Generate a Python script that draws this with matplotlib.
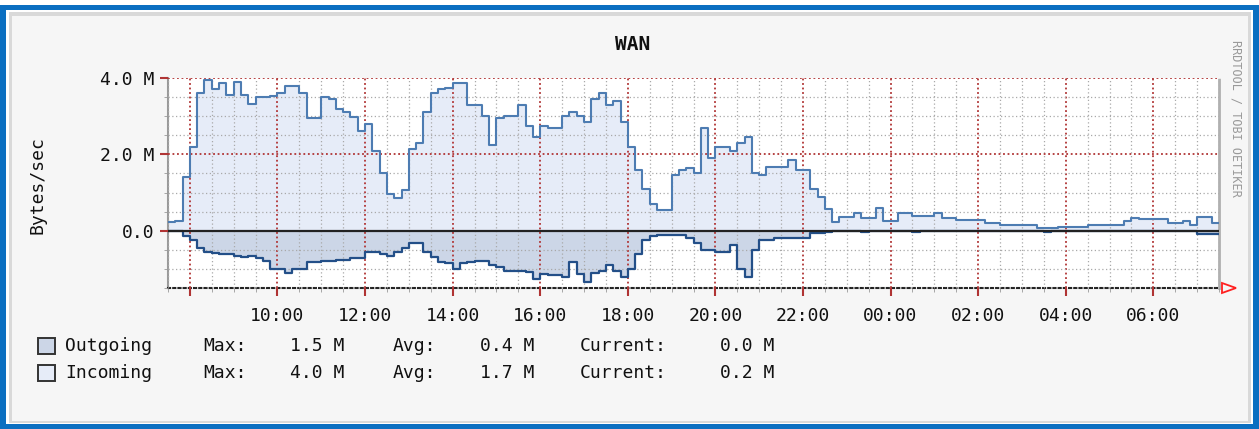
import numpy as np
import matplotlib
matplotlib.use("Agg")
import matplotlib.pyplot as plt
from matplotlib.patches import Rectangle, Polygon
from matplotlib.ticker import MultipleLocator, FixedLocator, FixedFormatter

# ---------------- data (Bytes/sec, in M), 10-minute steps from 07:30 ----------------
start_hour = 7.5
step_hours = 1 / 6

incoming = [
    0.24, 0.26, 1.4, 2.2, 3.6, 3.95, 3.7, 3.86, 3.55, 3.9,
    3.55, 3.33, 3.5, 3.5, 3.52, 3.6, 3.8, 3.8, 3.6, 2.95,
    2.95, 3.5, 3.45, 3.2, 3.1, 2.97, 2.6, 2.8, 2.1, 1.5,
    0.95, 0.86, 1.07, 2.15, 2.3, 3.1, 3.6, 3.72, 3.75, 3.86,
    3.86, 3.3, 3.3, 3.0, 2.24, 2.95, 3.0, 3.0, 3.28, 2.75,
    2.45, 2.75, 2.7, 2.7, 3.0, 3.1, 3.0, 2.85, 3.45, 3.6,
    3.3, 3.4, 2.84, 2.2, 1.6, 1.1, 0.7, 0.55, 0.55, 1.45,
    1.6, 1.64, 1.5, 2.68, 1.9, 2.18, 2.18, 2.1, 2.3, 2.45,
    1.5, 1.45, 1.67, 1.67, 1.67, 1.85, 1.6, 1.6, 1.1, 0.89,
    0.56, 0.23, 0.36, 0.36, 0.46, 0.33, 0.33, 0.6, 0.26, 0.26,
    0.46, 0.46, 0.38, 0.38, 0.38, 0.46, 0.33, 0.33, 0.28, 0.28,
    0.28, 0.28, 0.2, 0.2, 0.15, 0.16, 0.16, 0.16, 0.16, 0.08,
    0.08, 0.08, 0.1, 0.1, 0.1, 0.1, 0.15, 0.15, 0.15, 0.15,
    0.15, 0.25, 0.34, 0.3, 0.3, 0.3, 0.3, 0.2, 0.2, 0.25,
    0.15, 0.35, 0.35, 0.2,
]

outgoing = [
    0.02, 0.02, 0.15, 0.25, 0.45, 0.55, 0.58, 0.6, 0.62, 0.65,
    0.7, 0.65, 0.72, 0.8, 1.0, 1.0, 1.12, 1.0, 1.0, 0.83,
    0.83, 0.8, 0.8, 0.77, 0.77, 0.72, 0.72, 0.55, 0.55, 0.6,
    0.65, 0.55, 0.45, 0.33, 0.33, 0.55, 0.7, 0.82, 0.85, 1.0,
    0.85, 0.83, 0.8, 0.8, 0.9, 0.95, 1.05, 1.05, 1.05, 1.08,
    1.27, 1.13, 1.17, 1.17, 1.2, 0.83, 1.13, 1.35, 1.1, 1.05,
    0.9, 1.05, 1.2, 1.0, 0.6, 0.23, 0.15, 0.12, 0.12, 0.12,
    0.12, 0.2, 0.33, 0.5, 0.5, 0.57, 0.57, 0.37, 1.0, 1.2,
    0.5, 0.23, 0.23, 0.18, 0.18, 0.18, 0.2, 0.2, 0.05, 0.05,
    0.03, 0.02, 0.02, 0.02, 0.02, 0.04, 0.02, 0.02, 0.02, 0.02,
    0.02, 0.02, 0.04, 0.02, 0.02, 0.02, 0.02, 0.02, 0.02, 0.02,
    0.02, 0.02, 0.02, 0.02, 0.02, 0.02, 0.02, 0.02, 0.02, 0.02,
    0.03, 0.02, 0.02, 0.02, 0.02, 0.02, 0.02, 0.02, 0.02, 0.02,
    0.02, 0.02, 0.02, 0.02, 0.02, 0.02, 0.02, 0.02, 0.02, 0.02,
    0.02, 0.08, 0.08, 0.08,
]

x_tick_hours = [8, 10, 12, 14, 16, 18, 20, 22, 24, 26, 28, 30]
x_tick_labels = ["", "10:00", "12:00", "14:00", "16:00", "18:00", "20:00",
                 "22:00", "00:00", "02:00", "04:00", "06:00"]
y_ticks = [0.0, 2.0, 4.0]
y_tick_labels = ["0.0", "2.0 M", "4.0 M"]

series_names = ["Outgoing", "Incoming"]
stat_max = ["1.5 M", "4.0 M"]
stat_avg = ["0.4 M", "1.7 M"]
stat_cur = ["0.0 M", "0.2 M"]

title = "WAN"
y_label = "Bytes/sec"
watermark = "RRDTOOL / TOBI OETIKER"

# ---------------- styling ----------------
W, H = 1259, 429
DPI = 100
mono = "DejaVu Sans Mono"
in_fill, in_line = "#e6ecf8", "#4d7cb2"
out_fill, out_line = "#ccd6e7", "#234f88"
major_c = "#b03434"
minor_c = "#a9a9a9"

fig = plt.figure(figsize=(W / DPI, H / DPI), dpi=DPI, facecolor="white")

def px_rect(x0, y0, x1, y1, z=-10, **kw):
    r = Rectangle((x0 / W, 1 - y1 / H), (x1 - x0) / W, (y1 - y0) / H,
                  transform=fig.transFigure, zorder=z, **kw)
    fig.patches.append(r)

# frame: blue border, grey bevel, light panel
px_rect(0, 5, 1259, 429, facecolor="#0b6fc1", edgecolor="none")
px_rect(6, 10, 1253, 424, facecolor="white", edgecolor="none")
px_rect(9, 12, 1251, 423, facecolor="#d9d9d9", edgecolor="none")
px_rect(12, 16, 1248, 421, facecolor="#f6f6f6", edgecolor="none")

# plot area
L, R, T, B = 168, 1219, 78, 288
ax = fig.add_axes([L / W, 1 - B / H, (R - L) / W, (B - T) / H], zorder=5)
ax.set_facecolor("white")

n = len(incoming)
xs = start_hour + np.arange(n + 1) * step_hours
inc = np.append(incoming, incoming[-1])
out = -np.append(outgoing, outgoing[-1])

ax.fill_between(xs, 0, inc, step="post", facecolor=in_fill, edgecolor="none", zorder=1)
ax.fill_between(xs, out, 0, step="post", facecolor=out_fill, edgecolor="none", zorder=1)
ax.step(xs, inc, where="post", color=in_line, lw=1.5, zorder=4)
ax.step(xs, out, where="post", color=out_line, lw=1.6, zorder=4)
ax.axhline(0, color="#222222", lw=1.6, zorder=5)

ax.set_xlim(start_hour, start_hour + n * step_hours)
ax.set_ylim(-1.5, 4.0)

ax.xaxis.set_major_locator(FixedLocator(x_tick_hours))
ax.xaxis.set_major_formatter(FixedFormatter(x_tick_labels))
ax.xaxis.set_minor_locator(MultipleLocator(0.5))
ax.yaxis.set_major_locator(FixedLocator(y_ticks))
ax.yaxis.set_major_formatter(FixedFormatter(y_tick_labels))
ax.yaxis.set_minor_locator(MultipleLocator(0.5))

ax.set_axisbelow(False)
ax.grid(which="minor", color=minor_c, linestyle=(0, (1, 2)), lw=0.9, zorder=2)
ax.grid(which="major", color=major_c, linestyle=(0, (1, 1.5)), lw=1.3, zorder=3)

ax.tick_params(axis="both", which="major", labelsize=13, length=6, color=major_c, width=1.5)
ax.tick_params(axis="both", which="minor", length=3, color="#999999")
ax.tick_params(axis="x", which="major", pad=8)
ax.tick_params(axis="y", which="major", pad=4)
for lab in ax.get_xticklabels() + ax.get_yticklabels():
    lab.set_fontfamily(mono)
    lab.set_color("#111111")

ax.spines["top"].set_visible(False)
ax.spines["left"].set_color("#9a9a9a")
ax.spines["left"].set_linewidth(1.5)
ax.spines["right"].set_color("#b0b0b0")
ax.spines["right"].set_linestyle((0, (1, 1)))
ax.spines["right"].set_linewidth(2)
ax.spines["bottom"].set_color("#222222")
ax.spines["bottom"].set_linestyle((0, (1, 1.5)))
ax.spines["bottom"].set_linewidth(1.5)

# red arrow at end of x axis
ar = Polygon([[1222 / W, 1 - 283 / H], [1236 / W, 1 - 288 / H], [1222 / W, 1 - 293 / H]],
             closed=True, facecolor="none", edgecolor="#ff2020", lw=1.3,
             transform=fig.transFigure, zorder=10)
fig.patches.append(ar)

# texts
fig.text(633 / W, 1 - 45 / H, title, ha="center", va="center",
         fontsize=14, fontweight="bold", family=mono, color="#111111")
fig.text(38 / W, 1 - 185 / H, y_label, ha="center", va="center", rotation=90,
         fontsize=13, family=mono, color="#111111")
fig.text(1236 / W, 1 - 118 / H, watermark, ha="center", va="center", rotation=-90,
         fontsize=8.5, family=mono, color="#9a9a9a")

# legend
row_y = [346, 373]
colors = [out_fill, in_fill]
for i in range(2):
    y = row_y[i]
    px_rect(38, y - 8, 55, y + 8, z=2, facecolor=colors[i], edgecolor="#333333", linewidth=1.4)
    kw = dict(ha="left", va="center", fontsize=13, family=mono, color="#111111")
    fig.text(65 / W, 1 - y / H, series_names[i], **kw)
    fig.text(203 / W, 1 - y / H, "Max:", **kw)
    fig.text(290 / W, 1 - y / H, stat_max[i], **kw)
    fig.text(393 / W, 1 - y / H, "Avg:", **kw)
    fig.text(480 / W, 1 - y / H, stat_avg[i], **kw)
    fig.text(580 / W, 1 - y / H, "Current:", **kw)
    fig.text(720 / W, 1 - y / H, stat_cur[i], **kw)

fig.savefig("out.png", dpi=DPI, facecolor=fig.get_facecolor())
